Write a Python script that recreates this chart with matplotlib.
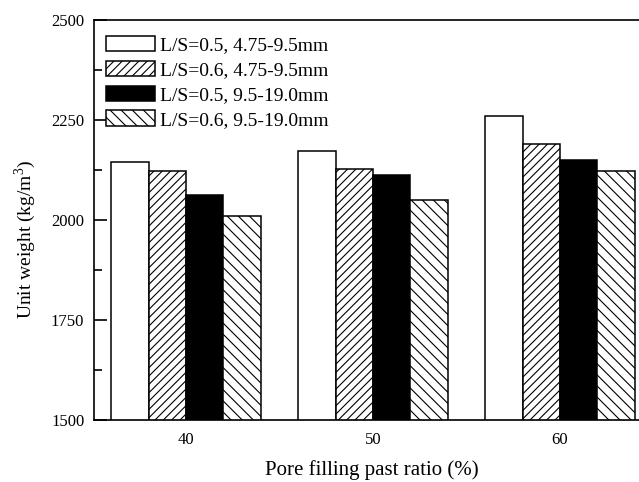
import matplotlib
matplotlib.use("Agg")
import matplotlib.pyplot as plt
import numpy as np

categories = ["40", "50", "60"]
series_labels = ["L/S=0.5, 4.75-9.5mm", "L/S=0.6, 4.75-9.5mm",
                 "L/S=0.5, 9.5-19.0mm", "L/S=0.6, 9.5-19.0mm"]
s1 = [2145, 2172, 2260]
s2 = [2122, 2127, 2190]
s3 = [2062, 2112, 2150]
s4 = [2010, 2050, 2122]
series = [s1, s2, s3, s4]

plt.rcParams['font.family'] = ['Liberation Serif', 'DejaVu Serif']
plt.rcParams['mathtext.fontset'] = 'custom'
plt.rcParams['mathtext.rm'] = 'Liberation Serif'
plt.rcParams['hatch.linewidth'] = 0.8
plt.rcParams['hatch.color'] = '#333333'

fig = plt.figure(figsize=(6.39, 4.82), dpi=100)
ax = fig.add_axes([94/639, 62/482, 551/639, 400/482])

x = np.array([40, 50, 60], dtype=float)
w = 2.0
styles = [
    dict(facecolor='white', hatch=None),
    dict(facecolor='white', hatch='////'),
    dict(facecolor='black', hatch=None),
    dict(facecolor='white', hatch='\\\\\\'),
]
for i, (vals, st, lab) in enumerate(zip(series, styles, series_labels)):
    ax.bar(x + (i - 1.5) * w, vals, width=w, bottom=0,
           facecolor=st['facecolor'], edgecolor='black', linewidth=1.1,
           hatch=st['hatch'], label=lab)

ax.set_ylim(1500, 2500)
ax.set_xlim(35.08, 64.55)
ax.set_xticks(x)
ax.set_xticklabels(categories)
ax.set_yticks([1500, 1750, 2000, 2250, 2500])
ax.set_yticks([1625, 1875, 2125, 2375], minor=True)
ax.tick_params(axis='y', which='major', direction='in', length=9, width=1.2, labelsize=12, pad=7)
ax.tick_params(axis='y', which='minor', direction='in', length=6, width=1.2)
ax.tick_params(axis='x', which='both', length=0, labelsize=12, pad=9)
for sp in ax.spines.values():
    sp.set_linewidth(1.2)

ax.set_xlabel("Pore filling past ratio (%)", fontsize=15)
ax.xaxis.set_label_coords((372-94)/551, -0.1)
ax.set_ylabel("Unit weight (kg/m$^3$)", fontsize=14)
ax.yaxis.set_label_coords((38-94)/551, (420-239)/400)

leg = ax.legend(loc='upper left', bbox_to_anchor=((106-94)/551, (420-36)/400),
                frameon=False, fontsize=14, handlelength=2.5, handleheight=0.83,
                labelspacing=0.33, handletextpad=0.26, borderaxespad=0, borderpad=0)

fig.savefig("out.png", dpi=100)
